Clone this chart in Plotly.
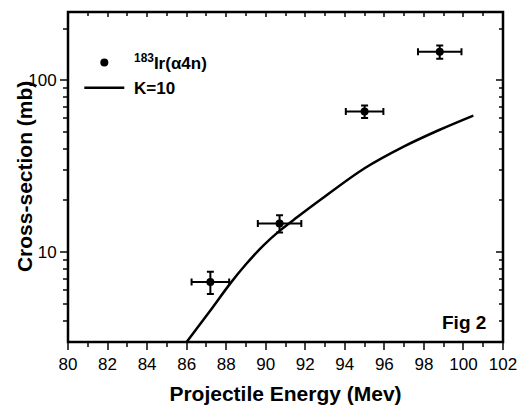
import plotly.graph_objects as go

# Experimental data 183Ir(alpha,4n)
energy = [87.2, 90.7, 95.0, 98.8]
energy_err = [0.95, 1.1, 0.95, 1.1]
cross_section = [6.7, 14.7, 65.9, 146.6]
cs_err = [1.0, 1.7, 5.5, 13.0]

# Calculation K=10
calc_energy = [86.0, 87.2, 88.2, 89.0, 89.9, 90.7, 91.6, 92.75, 95.0, 97.0, 98.8, 100.5]
calc_cs = [3.0, 4.58, 6.56, 8.5, 11.0, 13.3, 16.0, 20.1, 30.8, 41.3, 51.6, 62.4]

x_ticks = list(range(80, 103, 2))
y_ticks = [10, 100]
y_minor = [4, 5, 6, 7, 8, 9, 20, 30, 40, 50, 60, 70, 80, 90, 200]

FONT = "Liberation Sans"
xr = [80, 102]
yr = [0.4771, 2.398]
PAD = "\u00a0"

fig = go.Figure()
fig.add_trace(go.Scatter(
    x=energy, y=cross_section, mode="markers",
    name=PAD + "<sup>183</sup>Ir(α4n)", legendgroup="a",
    marker=dict(color="black", size=8, symbol="circle"),
    error_x=dict(type="data", array=energy_err, color="black", thickness=2, width=3.5),
    error_y=dict(type="data", array=cs_err, color="black", thickness=2, width=3.5),
))
fig.add_trace(go.Scatter(
    x=calc_energy, y=calc_cs, mode="lines", name=PAD + "K=10", legendgroup="b",
    line=dict(color="black", width=2.5, shape="spline", smoothing=1.0),
))
fig.add_trace(go.Scatter(x=[None], y=[None], xaxis="x2", yaxis="y2",
                         showlegend=False, hoverinfo="skip"))

axis_common = dict(showgrid=False, zeroline=False, showline=False, automargin=False)

fig.update_layout(
    width=521, height=405,
    margin=dict(l=68, r=18, t=12, b=63),
    paper_bgcolor="white", plot_bgcolor="white",
    font=dict(family=FONT, color="black", size=17),
    showlegend=True,
    legend=dict(x=0.026, y=0.90, xanchor="left", yanchor="top",
                bgcolor="rgba(0,0,0,0)", tracegroupgap=0, itemwidth=40,
                font=dict(family=FONT, size=17, weight="bold")),
    xaxis=dict(range=xr, tickvals=x_ticks, ticks="outside", ticklen=7, tickwidth=2,
               tickfont=dict(size=17),
               minor=dict(dtick=1, tick0=80, ticks="outside", ticklen=4, tickwidth=2),
               title=dict(text="Projectile Energy (Mev)", standoff=12,
                          font=dict(size=21, weight="bold")),
               **axis_common),
    yaxis=dict(type="log", range=yr, tickvals=y_ticks, ticktext=["10", "100"],
               ticks="outside", ticklen=7, tickwidth=2, tickfont=dict(size=17),
               minor=dict(tickvals=y_minor, ticks="outside", ticklen=4, tickwidth=2),
               **axis_common),
    xaxis2=dict(overlaying="x", side="top", range=xr, tickvals=x_ticks,
                ticks="inside", ticklen=5, tickwidth=2, showticklabels=False,
                minor=dict(dtick=1, tick0=80, ticks="inside", ticklen=4, tickwidth=2),
                **axis_common),
    yaxis2=dict(overlaying="y", side="right", type="log", range=yr, tickvals=y_ticks,
                ticks="inside", ticklen=7, tickwidth=2, showticklabels=False,
                minor=dict(tickvals=y_minor, ticks="inside", ticklen=4, tickwidth=2),
                **axis_common),
    shapes=[dict(type="rect", xref="paper", yref="paper", x0=0, x1=1, y0=0, y1=1,
                 line=dict(color="black", width=2.5), layer="above")],
    annotations=[
        dict(text="Fig 2", xref="paper", yref="paper", x=0.91, y=0.06,
             xanchor="center", yanchor="middle", showarrow=False,
             font=dict(family=FONT, size=19, weight="bold")),
        dict(text="Cross-section (mb)", xref="paper", yref="paper", x=-0.101, y=0.5,
             xanchor="center", yanchor="middle", textangle=-90, showarrow=False,
             font=dict(family=FONT, size=21, weight="bold")),
    ],
)

fig.write_html("out.html", config={"displayModeBar": False},
               post_script="document.body.style.margin='0px';document.body.style.overflow='hidden';")
